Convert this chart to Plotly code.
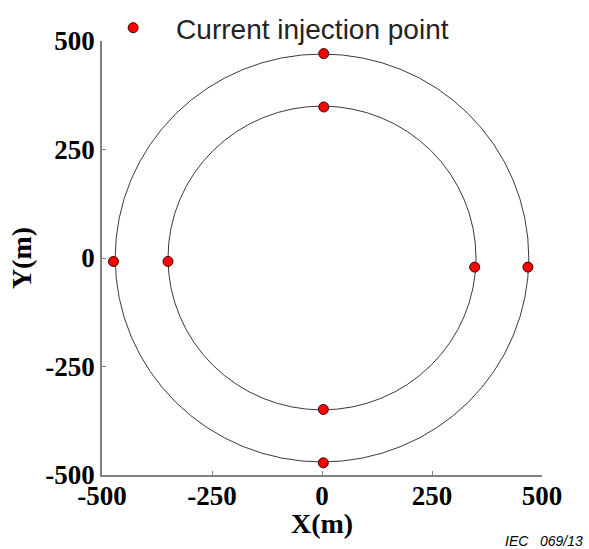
import plotly.graph_objects as go

# Data
circle_radii = [470, 350]
point_x = [4, 4, 3, 3, -474, -350, 347, 468]
point_y = [471, 348, -349, -472, -8, -8, -21, -21]
tick_vals = [-500, -250, 0, 250, 500]
tick_text = ["-500", "-250", "0", "250", "500"]
legend_name = "Current injection point"

fig = go.Figure()
fig.add_trace(go.Scatter(
    x=point_x, y=point_y, mode="markers", name=legend_name,
    marker=dict(color="#ff0000", size=10, line=dict(color="#400000", width=1)),
    showlegend=True,
))

for r in circle_radii:
    fig.add_shape(type="circle", xref="x", yref="y", x0=-r, x1=r, y0=-r, y1=r,
                  line=dict(color="#3a3a3a", width=1), layer="below")

tickfont = dict(family="Liberation Serif", size=27, color="black", weight="bold")
axis_common = dict(
    range=[-500, 500], tickvals=tick_vals, ticktext=tick_text,
    showgrid=False, zeroline=False, showline=True, linecolor="#808080", linewidth=1.5,
    ticks="inside", ticklen=4, tickcolor="#808080", tickwidth=1,
    tickfont=tickfont, automargin=False, mirror=False,
)
title_font = dict(family="Liberation Serif", size=28, color="black")

fig.update_layout(
    width=589, height=549,
    margin=dict(l=102, r=47, t=41, b=74, autoexpand=False),
    paper_bgcolor="white", plot_bgcolor="white",
    xaxis=dict(**axis_common),
    yaxis=dict(**axis_common,
               title=dict(text="<b>Y(m)</b>", font=title_font, standoff=6)),
    showlegend=True,
    legend=dict(x=-0.027, y=1.03, xanchor="left", yanchor="middle",
                font=dict(family="Liberation Sans", size=28, color="#222222"),
                bgcolor="rgba(0,0,0,0)", itemwidth=76),
    annotations=[
        dict(text="<b>X(m)</b>", xref="paper", yref="paper", x=0.5, xanchor="center",
             y=-0.111, yanchor="middle", showarrow=False, font=title_font),
        dict(text="<i>IEC   069/13</i>", xref="paper", yref="paper",
             x=1.0, xanchor="right", y=-0.152, yanchor="middle", showarrow=False,
             xshift=43,
             font=dict(family="Liberation Sans", size=14, color="black")),
    ],
)
fig.update_xaxes(ticklabelstandoff=-4)

fig.write_html("out.html")
